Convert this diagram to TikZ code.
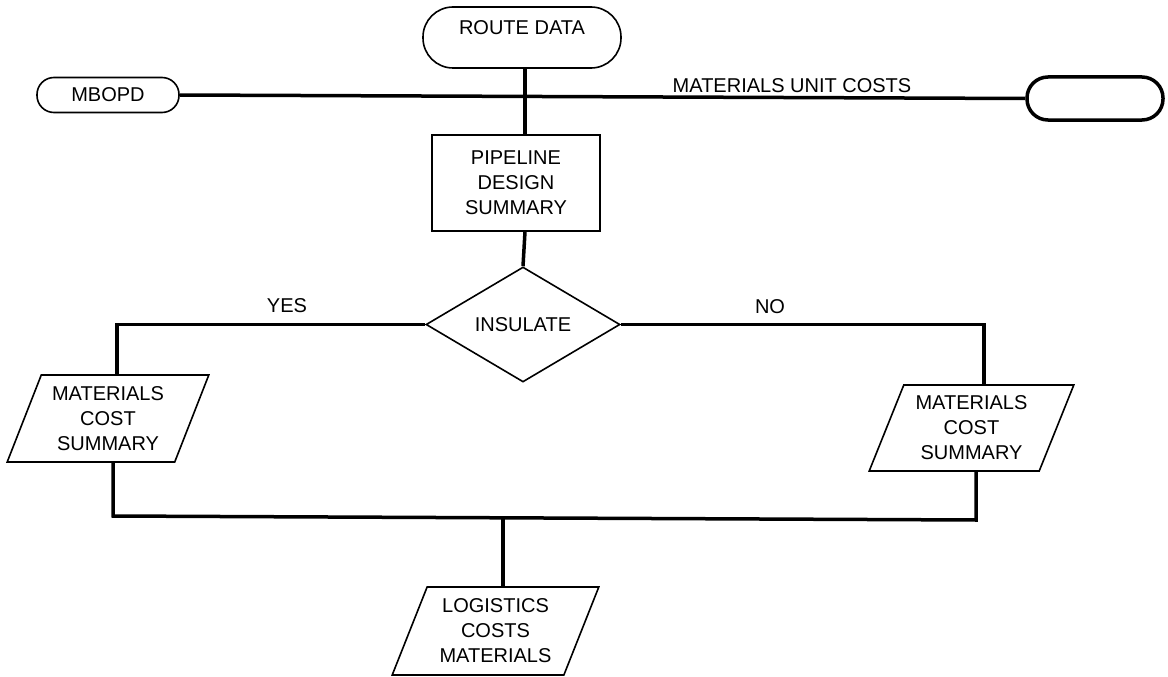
\documentclass[tikz,border=0pt]{standalone}
\usepackage{fontspec}
\setmainfont{Liberation Sans}
\usetikzlibrary{shapes.geometric}

\begin{document}
\begin{tikzpicture}[x=1pt, y=-1pt,
  every node/.style={font=\fontsize{20}{25}\selectfont, align=center},
  flow/.style={line width=3.5pt, line join=miter},
  terminal/.style={draw, line width=1.6pt, rounded corners=#1, inner sep=0pt},
  process/.style={draw, line width=1.6pt, rectangle, inner sep=0pt},
  decision/.style={draw, line width=1.6pt, diamond, inner sep=0pt, aspect=1.69},
  iobox/.style={draw, line width=1.6pt, trapezium, trapezium left angle=66,
    trapezium right angle=114, trapezium stretches=true, inner sep=0pt},
  tag/.style={inner sep=0pt}
]
\useasboundingbox (0,0) rectangle (1168,677);

% sources along the top
\node[terminal=30pt, minimum width=198pt, minimum height=61pt,
      text height=21pt, text depth=26pt, inner ysep=7pt] (route) at (522,37.5) {ROUTE DATA};
\node[terminal=17pt, minimum width=142pt, minimum height=35pt] (mbopd) at (108,95) {MBOPD};
\node[terminal=21pt, line width=3.5pt, minimum width=136pt, minimum height=43pt] (unit) at (1095,98.5) {};

% main chain
\node[process, minimum width=168pt, minimum height=96pt] (pipe) at (516,183)
  {PIPELINE\\DESIGN\\SUMMARY};
\node[decision, minimum width=194pt, minimum height=115pt] (insul) at (523,324.5) {INSULATE};

% cost summaries and output
\node[iobox, minimum width=202pt, minimum height=87pt] (matL) at (108,418.5)
  {MATERIALS\\COST\\SUMMARY};
\node[iobox, minimum width=205pt, minimum height=86pt] (matR) at (971.5,428)
  {MATERIALS\\COST\\SUMMARY};
\node[iobox, minimum width=207pt, minimum height=88pt] (logi) at (495.5,631)
  {LOGISTICS\\COSTS\\MATERIALS};

% connector columns
\coordinate (spine) at (525,0);
\coordinate (yescol) at (117,0);
\coordinate (lowL) at (113,0);
\coordinate (nocol) at (984,0);
\coordinate (lowR) at (976,0);
\coordinate (outcol) at (503,0);
\coordinate (busL) at (113,516);
\coordinate (busR) at (976,520);

% connectors
\draw[flow] (mbopd.east) -- (unit.west);
\draw[flow] (route.south -| spine) -- (pipe.north -| spine);
\draw[flow] (pipe.south -| spine) -- (insul.north);
\draw[flow] (insul.west) -- (yescol |- insul.west) -- (yescol |- matL.north);
\draw[flow] (insul.east) -- (nocol |- insul.east) -- (nocol |- matR.north);
\draw[flow] (lowL |- matL.south) -- (busL) -- (busR) -- (lowR |- matR.south);
\draw[flow] (outcol |- busL) -- (outcol |- logi.north);

% labels
\node[tag] (yes) at (287,306) {YES};
\node[tag] (no) at (770,307) {NO};
\node[tag] (muc) at (792,86) {MATERIALS UNIT COSTS};
\end{tikzpicture}
\end{document}
